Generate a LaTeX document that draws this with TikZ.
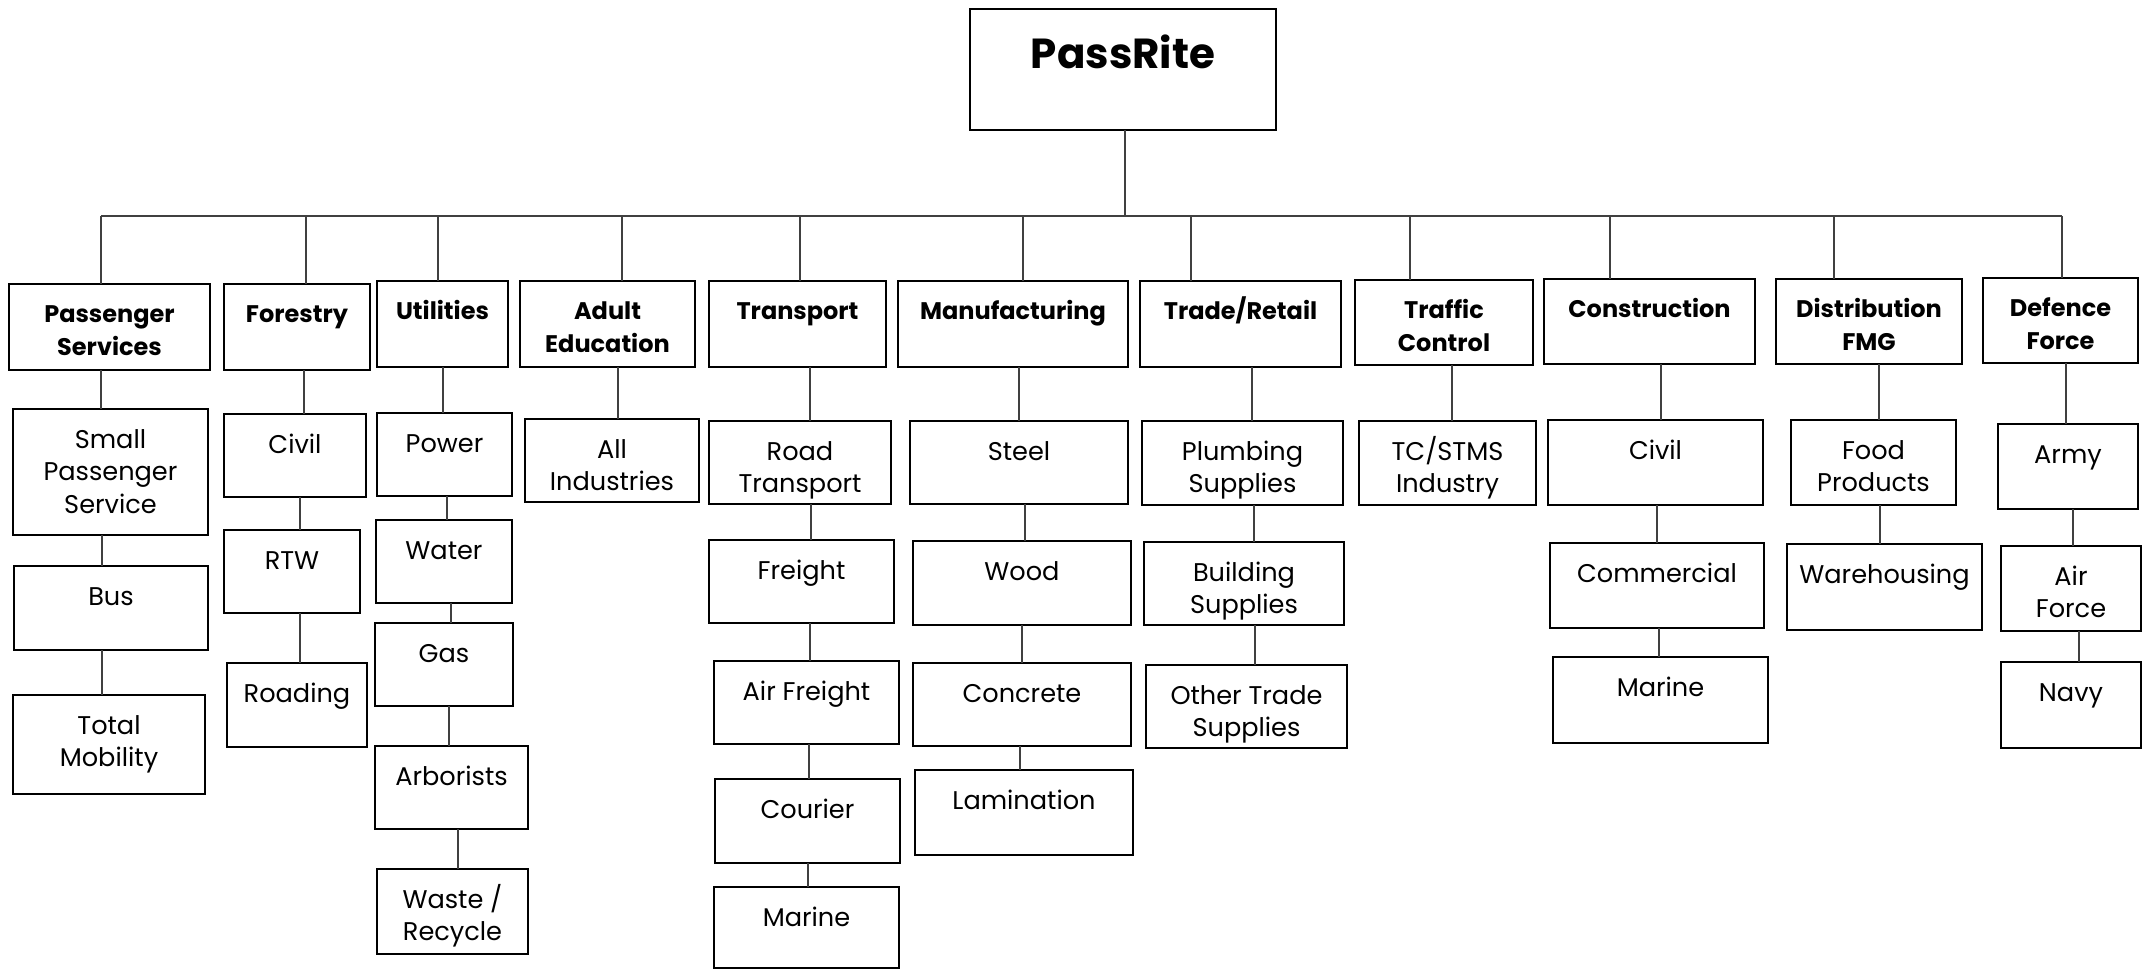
\documentclass[tikz,border=0pt]{standalone}
\usepackage{fontspec}
\setmainfont{Poppins}
\newcommand\toph{20pt}
\newcommand\obx[7]{%
  \pgfmathsetmacro\cxx{(#2+#4)/2}%
  \pgfmathsetmacro\cyy{(#3+#5)/2}%
  \pgfmathsetmacro\www{(#4-#2)/2}%
  \pgfmathsetmacro\hhh{(#5-#3)/2}%
  \node[#6] (#1) at (\cxx,\cyy) {\parbox[c][\hhh pt][t]{\www pt}{\centering\rule{0pt}{\toph}#7\par}};%
}
\tikzset{
  bx/.style={draw=black, line width=1.1pt, inner sep=0pt, outer sep=0pt},
  hdr/.style={bx, font=\fontsize{12}{16.5}\selectfont\bfseries},
  leaf/.style={bx, font=\fontsize{12.8}{16.3}\selectfont},
  con/.style={line width=0.75pt, draw=black!75},
}
\begin{document}
\begin{tikzpicture}[x=0.5pt,y=-0.5pt]
\useasboundingbox (0,0) rectangle (2145,970);
\fill[white] (0,0) rectangle (2145,970);
% root
\renewcommand\toph{29.5pt}
\obx{root}{970}{9}{1276}{130}{bx, font=\fontsize{21}{26}\selectfont\bfseries}{PassRite}
\renewcommand\toph{19pt}
% headers
\obx{ps}{9}{284}{210}{370}{hdr}{Passenger\\Services}
\obx{fo}{224}{284}{370}{370}{hdr}{Forestry}
\obx{ut}{377}{281}{508}{367}{hdr}{Utilities}
\obx{ae}{520}{281}{695}{367}{hdr}{Adult\\Education}
\obx{tr}{709}{281}{886}{367}{hdr}{Transport}
\obx{ma}{898}{281}{1128}{367}{hdr}{Manufacturing}
\obx{tre}{1140}{281}{1341}{367}{hdr}{Trade/Retail}
\obx{tc}{1355}{280}{1533}{365}{hdr}{Traffic\\Control}
\obx{co}{1544}{279}{1755}{364}{hdr}{Construction}
\obx{di}{1776}{279}{1962}{364}{hdr}{Distribution\\FMG}
\obx{de}{1983}{278}{2138}{363}{hdr}{Defence\\Force}
% children
\renewcommand\toph{19.5pt}
\obx{sps}{13}{409}{208}{535}{leaf}{Small\\Passenger\\Service}
\obx{bus}{14}{566}{208}{650}{leaf}{Bus}
\obx{tm}{13}{695}{205}{794}{leaf}{Total\\Mobility}
\obx{fciv}{224}{414}{366}{497}{leaf}{Civil}
\obx{rtw}{224}{530}{360}{613}{leaf}{RTW}
\obx{road}{227}{663}{367}{747}{leaf}{Roading}
\obx{pow}{377}{413}{512}{496}{leaf}{Power}
\obx{wat}{376}{520}{512}{603}{leaf}{Water}
\obx{gas}{375}{623}{513}{706}{leaf}{Gas}
\obx{arb}{375}{746}{528}{829}{leaf}{Arborists}
\obx{was}{377}{869}{528}{954}{leaf}{Waste /\\Recycle}
\obx{all}{525}{419}{699}{502}{leaf}{All\\Industries}
\obx{rdt}{709}{421}{891}{504}{leaf}{Road\\Transport}
\obx{fr}{709}{540}{894}{623}{leaf}{Freight}
\obx{af}{714}{661}{899}{744}{leaf}{Air Freight}
\obx{cou}{715}{779}{900}{863}{leaf}{Courier}
\obx{tmar}{714}{887}{899}{968}{leaf}{Marine}
\obx{st}{910}{421}{1128}{504}{leaf}{Steel}
\obx{wo}{913}{541}{1131}{625}{leaf}{Wood}
\obx{conc}{913}{663}{1131}{746}{leaf}{Concrete}
\obx{lam}{915}{770}{1133}{855}{leaf}{Lamination}
\obx{plu}{1142}{421}{1343}{505}{leaf}{Plumbing\\Supplies}
\obx{bui}{1144}{542}{1344}{625}{leaf}{Building\\Supplies}
\obx{oth}{1146}{665}{1347}{748}{leaf}{Other Trade\\Supplies}
\obx{tcs}{1359}{421}{1536}{505}{leaf}{TC/STMS\\Industry}
\obx{cciv}{1548}{420}{1763}{505}{leaf}{Civil}
\obx{com}{1550}{543}{1764}{628}{leaf}{Commercial}
\obx{cmar}{1553}{657}{1768}{743}{leaf}{Marine}
\obx{food}{1791}{420}{1956}{505}{leaf}{Food\\Products}
\obx{ware}{1787}{544}{1982}{630}{leaf}{Warehousing}
\obx{army}{1998}{424}{2138}{509}{leaf}{Army}
\obx{airf}{2001}{546}{2141}{631}{leaf}{Air\\Force}
\obx{navy}{2001}{662}{2141}{748}{leaf}{Navy}
% bus line
\coordinate (busL) at (101,216);
\coordinate (busR) at (2062,216);
\draw[con] (busL) -- (busR);
\draw[con] (root.south -| 1125,0) -- (busL -| 1125,0);
\foreach \n/\x in {ps/101,fo/306,ut/438,ae/622,tr/800,ma/1023,tre/1191,tc/1410,co/1610,di/1834,de/2062}
  \draw[con] (busL -| \x,0) -- (\n.north -| \x,0);
% vertical connectors
\foreach \a/\b/\x in {ps/sps/101,sps/bus/102,bus/tm/102,
  fo/fciv/304,fciv/rtw/300,rtw/road/300,
  ut/pow/443,pow/wat/447,wat/gas/451,gas/arb/449,arb/was/458,
  ae/all/618,
  tr/rdt/810,rdt/fr/811,fr/af/810,af/cou/809,cou/tmar/808,
  ma/st/1019,st/wo/1025,wo/conc/1022,conc/lam/1020,
  tre/plu/1252,plu/bui/1254,bui/oth/1255,
  tc/tcs/1452,
  co/cciv/1661,cciv/com/1657,com/cmar/1659,
  di/food/1879,food/ware/1880,
  de/army/2066,army/airf/2073,airf/navy/2079}
  \draw[con] (\a.south -| \x,0) -- (\b.north -| \x,0);
\end{tikzpicture}
\end{document}
